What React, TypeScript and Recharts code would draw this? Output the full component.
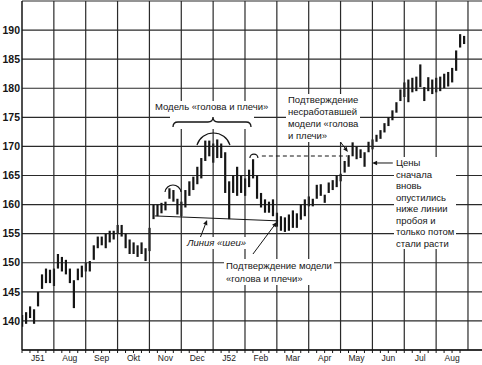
import {
  Bar,
  CartesianGrid,
  ComposedChart,
  ReferenceDot,
  ReferenceLine,
  XAxis,
  YAxis,
} from "recharts";

// month labels along the bottom, one per monthly column
const monthLabels = ["J51", "Aug", "Sep", "Okt", "Nov", "Dec", "J52", "Feb", "Mar", "Apr", "May", "Jun", "Jul", "Aug"];
const priceTicks = [140, 145, 150, 155, 160, 165, 170, 175, 180, 185, 190];

// one sample every 1/8 of a month
const STEP = 1 / 8;
const lows = [
  139, 139.5, 140.5, 139.5, 142.5, 145.5, 146.5, 146.5, 146, 149,
  148.5, 148, 146.5, 142.2, 147, 147.5, 148.5, 148.5, 150.5, 152.5,
  153, 152.5, 153.5, 154, 155, 154.5, 152.5, 151.5, 151.5, 151,
  151.5, 150.3, 152, 157.5, 158, 158.5, 159, 161, 160.5, 158.3,
  158, 159.5, 161.5, 162.5, 163.5, 164.5, 167.5, 168.3, 167.2, 168,
  168, 162, 157.5, 162, 161.5, 162, 161.5, 163, 164.5, 161,
  159.5, 158.6, 158.6, 158, 156.2, 155.5, 155.3, 155.5, 156, 156,
  157.4, 158, 159.7, 159.7, 161, 161.5, 160.3, 162, 162.5, 163,
  164, 165.5, 166.5, 168.3, 167.8, 168, 166.5, 169, 169.5, 170.8,
  171.3, 172.4, 173.5, 174.5, 175.8, 177.8, 178.5, 177.6, 179.3, 179.5,
  180.2, 177.8, 179.5, 179, 179.3, 179.5, 180, 180.3, 181, 183,
  187, 187.6,
];
const highs = [
  141, 141.5, 142.5, 142, 145, 148, 149, 148.8, 149, 151.5,
  151, 150.5, 149, 147, 149, 149.5, 150, 150.3, 153, 154.5,
  154.5, 155, 155.5, 155.5, 156.5, 156.5, 155, 154, 153.5, 153,
  153.5, 152.5, 156, 160, 160, 160.3, 160.5, 162.8, 162.5, 161,
  160.5, 162.5, 164, 164.8, 166.5, 168, 171, 171, 170.5, 171.2,
  170.5, 169, 164, 165, 166.5, 165, 164.5, 166, 167.8, 165,
  162, 160.9, 160.5, 160.9, 158.6, 158, 157.8, 158.3, 159, 158.5,
  160, 160.9, 161.4, 161, 163.4, 163.5, 161.7, 163.8, 164.2, 165,
  165.3, 167.5, 168.5, 170.7, 170, 169.5, 169, 170.8, 171.2, 172,
  172.8, 174, 175, 176.2, 177.6, 179.8, 181, 181.5, 181.8, 182,
  184.1, 180.2, 181.9, 181.5, 181.8, 182, 182.5, 182.8, 183.5, 186.5,
  189.3, 189,
];

const data = lows.map((lo, i) => ({ t: i * STEP, range: [lo, highs[i]] }));
const monthStarts = monthLabels.map((_, m) => m + 1);
const weekTicks = monthLabels.flatMap((_, m) => [m, m + 0.25, m + 0.5, m + 0.75]);

const INK = "#151515";

const MonthTick = (props: any) => {
  const { x, y, payload } = props;
  const idx = payload.value - 0.5;
  if (!Number.isInteger(idx)) return null;
  return (
    <text x={x} y={y} dy={6} textAnchor="middle" fontSize={8.5} fill="#222">
      {monthLabels[idx]}
    </text>
  );
};

const arc = (w: number, h: number) => (p: any) => {
  const R = (w * w + h * h) / (2 * h);
  return (
    <path
      d={`M ${p.cx - w} ${p.cy} A ${R} ${R} 0 0 1 ${p.cx + w} ${p.cy}`}
      fill="none"
      stroke={INK}
      strokeWidth={1.2}
    />
  );
};

const Arrow = (p: any) => {
  const { x1, y1, x2, y2 } = p;
  const a = Math.atan2(y2 - y1, x2 - x1);
  const L = 5;
  const W = 2.2;
  const bx = x2 - L * Math.cos(a);
  const by = y2 - L * Math.sin(a);
  const pts = `${x2},${y2} ${bx - W * Math.sin(a)},${by + W * Math.cos(a)} ${bx + W * Math.sin(a)},${by - W * Math.cos(a)}`;
  return (
    <g>
      <line x1={x1} y1={y1} x2={bx} y2={by} stroke={INK} strokeWidth={1} />
      <polygon points={pts} fill={INK} />
    </g>
  );
};

const note: React.CSSProperties = {
  position: "absolute",
  background: "#fff",
  color: INK,
  fontSize: 9.5,
  whiteSpace: "nowrap",
};

export default function App() {
  return (
    <div
      style={{
        position: "absolute",
        left: 0,
        top: 0,
        width: 482,
        height: 365,
        background: "#fff",
        fontFamily: '"Liberation Sans", Arial, sans-serif',
      }}
    >
      <ComposedChart width={482} height={365} data={data} margin={{ top: 1, right: 0, bottom: 0, left: 0 }}>
        <CartesianGrid vertical={false} stroke="#2a2a2a" strokeWidth={1.2} />
        <XAxis
          dataKey="t"
          type="number"
          domain={[0, 14.44]}
          ticks={weekTicks}
          interval={0}
          height={15}
          tickSize={3}
          tick={<MonthTick />}
          tickLine={{ stroke: INK }}
          axisLine={{ stroke: INK, strokeWidth: 1.5 }}
          allowDataOverflow
        />
        <YAxis
          type="number"
          domain={[135, 195]}
          ticks={priceTicks}
          width={22}
          tickSize={0}
          tickMargin={2}
          tickLine={false}
          axisLine={{ stroke: INK, strokeWidth: 1.5 }}
          tick={{ fontSize: 10.5, fontWeight: "bold", fill: INK }}
          allowDataOverflow
        />
        {monthStarts.map((m) => (
          <ReferenceLine key={m} x={m} stroke="#2a2a2a" strokeWidth={1.2} />
        ))}
        {/* neckline */}
        <ReferenceLine
          segment={[
            { x: 4.17, y: 158.05 },
            { x: 8.04, y: 157.2 },
          ]}
          stroke={INK}
          strokeWidth={1}
        />
        {/* breakout level of the right shoulder */}
        <ReferenceLine
          segment={[
            { x: 7.53, y: 168.35 },
            { x: 10.2, y: 168.35 },
          ]}
          stroke={INK}
          strokeWidth={1}
          strokeDasharray="4 3"
        />
        <Bar dataKey="range" fill={INK} barSize={2.2} isAnimationActive={false} />
        <ReferenceDot x={4.74} y={162.16} r={0} shape={arc(8, 7)} />
        <ReferenceDot x={6.01} y={170.24} r={0} shape={arc(16.5, 12)} />
        <ReferenceDot x={7.28} y={168.0} r={0} shape={arc(4, 4)} />
        <ReferenceLine segment={[{ x: 5.59, y: 154.25 }, { x: 5.81, y: 157.35 }]} shape={Arrow} />
        <ReferenceLine segment={[{ x: 7.25, y: 151.5 }, { x: 8.0, y: 157.0 }]} shape={Arrow} />
        <ReferenceLine segment={[{ x: 9.79, y: 172.3 }, { x: 10.23, y: 169.04 }]} shape={Arrow} />
        <ReferenceLine segment={[{ x: 11.64, y: 167.15 }, { x: 10.99, y: 167.15 }]} shape={Arrow} />
      </ComposedChart>

      <div style={{ ...note, left: 154, top: 101, lineHeight: "12px", padding: "0 1px" }}>
        Модель «голова и плечи»
      </div>
      <svg style={{ position: "absolute", left: 170, top: 112, background: "#fff" }} width={84} height={17}>
        <path
          d="M3 15 Q3 10 8 10 L38 10 Q43 10 43 5 Q43 10 48 10 L76 10 Q81 10 81 15"
          fill="none"
          stroke={INK}
          strokeWidth={1.3}
        />
      </svg>
      <div style={{ ...note, left: 186, top: 237, lineHeight: "12px", fontStyle: "italic", padding: "0 1px" }}>
        Линия «шеи»
      </div>
      <div style={{ ...note, left: 224, top: 259, lineHeight: "13px", padding: "0 2px" }}>
        Подтверждение модели
        <br />
        «голова и плечи»
      </div>
      <div style={{ ...note, left: 286, top: 94, lineHeight: "12px", padding: "0 2px" }}>
        Подтверждение
        <br />
        несработавшей
        <br />
        модели «голова
        <br />и плечи»
      </div>
      <div style={{ ...note, left: 394, top: 157, lineHeight: "11.5px", padding: "0 2px", width: 58 }}>
        Цены
        <br />
        сначала
        <br />
        вновь
        <br />
        опустились
        <br />
        ниже линии
        <br />
        пробоя и
        <br />
        только потом
        <br />
        стали расти
      </div>
    </div>
  );
}
